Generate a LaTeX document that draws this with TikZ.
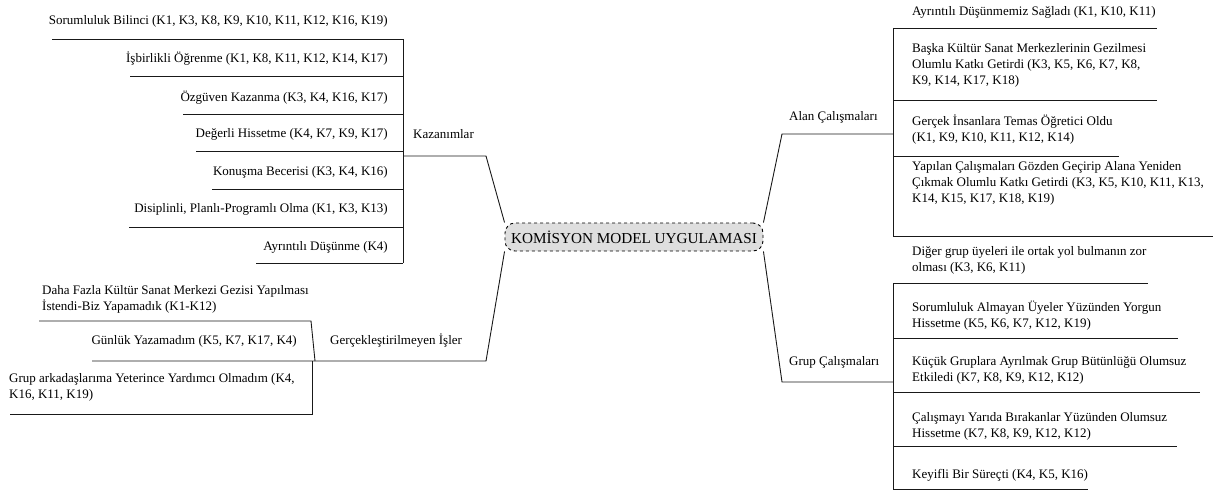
\documentclass[tikz,border=0pt]{standalone}
\usepackage{fontspec}
\setmainfont{Liberation Serif}
\begin{document}
\begin{tikzpicture}[x=1pt,y=-1pt,
  txt/.style={inner sep=0pt,font=\fontsize{13}{16}\selectfont,align=left},
  ltxt/.style={txt,anchor=east,align=right},
  rtxt/.style={txt,anchor=west},
  ln/.style={line width=0.9pt,draw=black!90},
  hub/.style={draw,dashed,line width=0.9pt,fill=black!13,rounded corners=10pt,
    minimum width=258pt,minimum height=28pt,inner sep=0pt,font=\fontsize{15.2}{18}\selectfont}]
\useasboundingbox (0,0) rectangle (1213,492);

% centre
\node[hub] (center) at (634,237) {KOMİSYON MODEL UYGULAMASI};

% ---------- Kazanımlar ----------
\node[ltxt] (s1) at (388,21.7) {Sorumluluk Bilinci (K1, K3, K8, K9, K10, K11, K12, K16, K19)};
\node[ltxt] (s2) at (388,59) {İşbirlikli Öğrenme (K1, K8, K11, K12, K14, K17)};
\node[ltxt] (s3) at (388,98) {Özgüven Kazanma (K3, K4, K16, K17)};
\node[ltxt] (s4) at (388,134.5) {Değerli Hissetme (K4, K7, K9, K17)};
\node[ltxt] (s5) at (388,172) {Konuşma Becerisi (K3, K4, K16)};
\node[ltxt] (s6) at (388,209) {Disiplinli, Planlı-Programlı Olma (K1, K3, K13)};
\node[ltxt] (s7) at (388,247) {Ayrıntılı Düşünme (K4)};
\node[rtxt] (kaz) at (413,134) {Kazanımlar};

\coordinate (kt) at (403,39);
\coordinate (kb) at (403,263);
\coordinate (kj) at (403,156);
\coordinate (ke) at (486,156);
\draw[ln] (kt) -- (kb);
\draw[ln] (52,39) -- (kt);
\draw[ln] (130,76) -- (403,76);
\draw[ln] (183,114) -- (403,114);
\draw[ln] (196,151) -- (403,151);
\draw[ln] (212,189) -- (403,189);
\draw[ln] (129,227) -- (403,227);
\draw[ln] (256,263) -- (kb);
\draw[ln] (kj) -- (ke) -- (center.north west);

% ---------- Gerçekleştirilmeyen İşler ----------
\node[rtxt] (g1) at (42,299.5) {Daha Fazla Kültür Sanat Merkezi Gezisi Yapılması\\İstendi-Biz Yapamadık (K1-K12)};
\node[ltxt] (g2) at (297,341) {Günlük Yazamadım (K5, K7, K17, K4)};
\node[rtxt] (gerc) at (330,341) {Gerçekleştirilmeyen İşler};
\node[rtxt] (g3) at (9,387) {Grup arkadaşlarıma Yeterince Yardımcı Olmadım (K4,\\K16, K11, K19)};

\coordinate (ge) at (486,361);
\coordinate (gj) at (315,361);
\coordinate (gt) at (311,321);
\coordinate (gv) at (312,361);
\coordinate (gb) at (312,414);
\draw[ln] (center.south west) -- (ge) -- (92,361);
\draw[ln] (39,321) -- (gt) -- (gj);
\draw[ln] (gv) -- (gb) -- (10,414);

% ---------- Alan Çalışmaları ----------
\node[rtxt] (alan) at (789,117) {Alan Çalışmaları};
\node[rtxt] (a1) at (912,12) {Ayrıntılı Düşünmemiz Sağladı (K1, K10, K11)};
\node[rtxt] (a2) at (912,65.5) {Başka Kültür Sanat Merkezlerinin Gezilmesi\\Olumlu Katkı Getirdi (K3, K5, K6, K7, K8,\\K9, K14, K17, K18)};
\node[rtxt] (a3) at (912,130) {Gerçek İnsanlara Temas Öğretici Oldu\\(K1, K9, K10, K11, K12, K14)};
\node[rtxt] (a4) at (912,183) {Yapılan Çalışmaları Gözden Geçirip Alana Yeniden\\Çıkmak Olumlu Katkı Getirdi (K3, K5, K10, K11, K13,\\K14, K15, K17, K18, K19)};

\coordinate (ae) at (782,134);
\coordinate (aj) at (893,134);
\coordinate (at) at (893,28);
\coordinate (ab) at (893,236);
\draw[ln] (center.north east) -- (ae) -- (aj);
\draw[ln] (at) -- (ab);
\draw[ln] (at) -- (1157,28);
\draw[ln] (893,100) -- (1157,100);
\draw[ln] (893,156) -- (1119,156);
\draw[ln] (ab) -- (1213,236);

% ---------- Grup Çalışmaları ----------
\node[rtxt] (grup) at (789,362) {Grup Çalışmaları};
\node[rtxt] (b1) at (912,260.5) {Diğer grup üyeleri ile ortak yol bulmanın zor\\olması (K3, K6, K11)};
\node[rtxt] (b2) at (912,315.5) {Sorumluluk Almayan Üyeler Yüzünden Yorgun\\Hissetme (K5, K6, K7, K12, K19)};
\node[rtxt] (b3) at (912,370) {Küçük Gruplara Ayrılmak Grup Bütünlüğü Olumsuz\\Etkiledi (K7, K8, K9, K12, K12)};
\node[rtxt] (b4) at (912,426.5) {Çalışmayı Yarıda Bırakanlar Yüzünden Olumsuz\\Hissetme (K7, K8, K9, K12, K12)};
\node[rtxt] (b5) at (912,475) {Keyifli Bir Süreçti (K4, K5, K16)};

\coordinate (be) at (782,382);
\coordinate (bj) at (893,382);
\coordinate (bt) at (893,283);
\coordinate (bb) at (893,489);
\draw[ln] (center.south east) -- (be) -- (bj);
\draw[ln] (bt) -- (bb);
\draw[ln] (bt) -- (1148,283);
\draw[ln] (893,338) -- (1178,338);
\draw[ln] (893,392) -- (1200,392);
\draw[ln] (893,446) -- (1177,446);
\draw[ln] (bb) -- (1088,489);
\end{tikzpicture}
\end{document}
